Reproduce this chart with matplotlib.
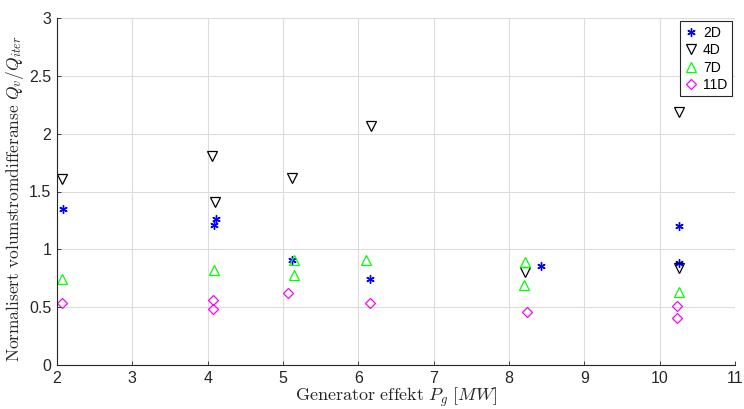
import matplotlib
matplotlib.use("Agg")
import matplotlib.pyplot as plt

plt.rcParams['font.family'] = ['Liberation Sans', 'DejaVu Sans']
plt.rcParams['mathtext.fontset'] = 'cm'

# Generator power [MW] and normalised flow difference per downstream distance
x_2d = [2.08, 4.08, 4.11, 5.12, 6.16, 8.43, 10.25, 10.25]
y_2d = [1.35, 1.21, 1.26, 0.91, 0.74, 0.86, 1.20, 0.88]

x_4d = [2.07, 4.06, 4.10, 5.12, 6.17, 8.21, 10.26, 10.26]
y_4d = [1.61, 1.81, 1.41, 1.62, 2.07, 0.80, 2.19, 0.84]

x_7d = [2.07, 4.08, 5.14, 5.15, 6.10, 8.21, 8.20, 10.26]
y_7d = [0.74, 0.82, 0.91, 0.78, 0.91, 0.89, 0.69, 0.63]

x_11d = [2.07, 4.07, 4.07, 5.06, 6.15, 8.24, 10.23, 10.23]
y_11d = [0.54, 0.56, 0.48, 0.62, 0.54, 0.46, 0.51, 0.41]

xticks = list(range(2, 12))
yticks = [0, 0.5, 1, 1.5, 2, 2.5, 3]

fig = plt.figure(figsize=(7.44, 4.09), dpi=100)
ax = fig.add_axes([57 / 744, 1 - 365 / 409, (735 - 57) / 744, (365 - 18) / 409])

ms = 6
ax.plot(x_2d, y_2d, ls='none', marker=(6, 2, 0), ms=ms, mew=1.0, color='#0000ff', label='2D')
ax.plot(x_4d, y_4d, ls='none', marker='v', ms=ms + 1, mew=0.9, mfc='none', mec='black', label='4D')
ax.plot(x_7d, y_7d, ls='none', marker='^', ms=ms + 1, mew=0.9, mfc='none', mec='#00ff00', label='7D')
ax.plot(x_11d, y_11d, ls='none', marker='D', ms=ms - 1, mew=0.9, mfc='none', mec='#ff00ff', label='11D')

ax.set_xlim(2, 11)
ax.set_ylim(0, 3)
ax.set_xticks(xticks)
ax.set_yticks(yticks)
ax.set_xticklabels([str(t) for t in xticks])
ax.set_yticklabels(['0', '0.5', '1', '1.5', '2', '2.5', '3'])

ax.grid(True, color='#dcdcdc', lw=0.8)
ax.set_axisbelow(True)
for s in ['top', 'right']:
    ax.spines[s].set_visible(False)
for s in ['left', 'bottom']:
    ax.spines[s].set_linewidth(0.8)
    ax.spines[s].set_color('#262626')
ax.tick_params(direction='in', length=3, width=0.6, labelsize=11.5, colors='#262626')
ax.tick_params(axis='x', pad=4)
ax.tick_params(axis='y', pad=4)

ax.set_xlabel(r'$\mathrm{Generator\ effekt}\ P_g\ [MW]$', fontsize=13, color='#262626')
ax.set_ylabel(r'$\mathrm{Normalisert\ volumstromdifferanse}\ Q_v/Q_{iter}$', fontsize=12.5,
              color='#262626')
ax.xaxis.set_label_coords(0.5, -0.06)
ax.yaxis.set_label_coords(-0.045, 0.48)

leg = ax.legend(loc='upper right', fontsize=10, frameon=True, fancybox=False,
                edgecolor='#262626', framealpha=1, borderpad=0.3, labelspacing=0.25,
                handlelength=1.0, handletextpad=0.4, borderaxespad=0.25)
leg.get_frame().set_linewidth(0.8)

fig.savefig('out.png', dpi=100)
